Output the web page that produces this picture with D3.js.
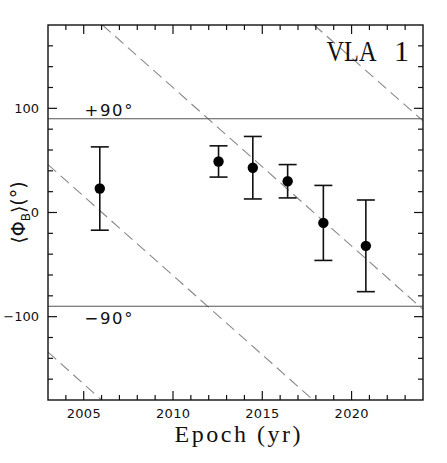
<!DOCTYPE html>
<html>
<head>
<meta charset="utf-8">
<script src="https://cdn.jsdelivr.net/npm/d3@7"></script>
<style>
  body { margin: 0; background: #fff; }
  svg { display: block; }
</style>
</head>
<body>
<div id="chart"></div>
<script>
// Measured epochs and mean field angles (deg) with their errors
const epochs = [2005.9, 2012.55, 2014.47, 2016.42, 2018.42, 2020.8];
const phiB = [23, 49, 43, 30, -10, -32];
const phiErr = [40, 15, 30, 16, 36, 44];

// Dashed reference lines, read as start/end points (epoch, angle)
const dashStartX = [2003, 2003, 2006.05, 2017.9];
const dashStartY = [-134, 46, 180, 180];
const dashEndX = [2006.0, 2017.85, 2024, 2024];
const dashEndY = [-180, -180, -93, 88];

// Horizontal limits and labels
const limitValues = [90, -90];
const limitLabels = ["+90°", "\u221290°"];

const xTicks = [2005, 2010, 2015, 2020];
const yTicks = [-100, 0, 100];

const W = 447, H = 463;
const margin = {top: 25, right: 24, bottom: 63, left: 48};
const width = W - margin.left - margin.right,
      height = H - margin.top - margin.bottom;

const svg = d3.select("#chart").append("svg")
    .attr("width", W)
    .attr("height", H);

const g = svg.append("g")
    .attr("transform", `translate(${margin.left},${margin.top})`);

const x = d3.scaleLinear().domain([2003, 2024]).range([0, width]);
const y = d3.scaleLinear().domain([-180, 180]).range([height, 0]);

// clip for the lines
svg.append("defs").append("clipPath").attr("id", "clip")
  .append("rect").attr("width", width).attr("height", height);

const plot = g.append("g").attr("clip-path", "url(#clip)");

// dashed lines
const dashData = dashStartX.map((d, i) => [[d, dashStartY[i]], [dashEndX[i], dashEndY[i]]]);
const line = d3.line().x(d => x(d[0])).y(d => y(d[1]));
plot.selectAll(".dash")
  .data(dashData)
  .join("path")
    .attr("class", "dash")
    .attr("d", line)
    .attr("fill", "none")
    .attr("stroke", "#888")
    .attr("stroke-width", 1.1)
    .attr("stroke-dasharray", "11,6");

// +90 / -90 lines
plot.selectAll(".limit")
  .data(limitValues)
  .join("line")
    .attr("class", "limit")
    .attr("x1", 0).attr("x2", width)
    .attr("y1", d => y(d)).attr("y2", d => y(d))
    .attr("stroke", "#555")
    .attr("stroke-width", 1.2);

g.selectAll(".limit-label")
  .data(limitValues)
  .join("text")
    .attr("class", "limit-label")
    .attr("x", x(2005.1) - 1)
    .attr("y", (d, i) => i === 0 ? y(d) - 2.5 : y(d) + 17.5)
    .attr("font-family", "DejaVu Sans, sans-serif")
    .attr("font-size", 16.5)
    .attr("textLength", 48)
    .attr("lengthAdjust", "spacing")
    .attr("fill", "#111")
    .text((d, i) => limitLabels[i]);

// error bars
const pts = epochs.map((e, i) => ({e, v: phiB[i], err: phiErr[i]}));
const bars = g.selectAll(".err").data(pts).join("g").attr("class", "err")
    .attr("stroke", "#111").attr("stroke-width", 1.6);
bars.append("line")
    .attr("x1", d => x(d.e)).attr("x2", d => x(d.e))
    .attr("y1", d => y(d.v + d.err)).attr("y2", d => y(d.v - d.err));
bars.append("line")
    .attr("x1", d => x(d.e) - 9).attr("x2", d => x(d.e) + 9)
    .attr("y1", d => y(d.v + d.err)).attr("y2", d => y(d.v + d.err));
bars.append("line")
    .attr("x1", d => x(d.e) - 9).attr("x2", d => x(d.e) + 9)
    .attr("y1", d => y(d.v - d.err)).attr("y2", d => y(d.v - d.err));

g.selectAll(".dot").data(pts).join("circle")
    .attr("class", "dot")
    .attr("cx", d => x(d.e)).attr("cy", d => y(d.v))
    .attr("r", 5.2)
    .attr("fill", "#000");

// frame and ticks on all four sides
g.append("rect")
    .attr("width", width).attr("height", height)
    .attr("fill", "none").attr("stroke", "#111").attr("stroke-width", 1.4);

const xMinor = d3.range(2004, 2024, 1);
const yMinor = d3.range(-160, 180, 20);
const tickStroke = sel => sel.attr("stroke", "#111").attr("stroke-width", 1.2);

function xTickMarks(vals, len) {
  g.append("g").selectAll("line").data(vals).join("line")
    .attr("x1", d => x(d)).attr("x2", d => x(d))
    .attr("y1", height).attr("y2", height - len).call(tickStroke);
  g.append("g").selectAll("line").data(vals).join("line")
    .attr("x1", d => x(d)).attr("x2", d => x(d))
    .attr("y1", 0).attr("y2", len).call(tickStroke);
}
function yTickMarks(vals, len) {
  g.append("g").selectAll("line").data(vals).join("line")
    .attr("y1", d => y(d)).attr("y2", d => y(d))
    .attr("x1", 0).attr("x2", len).call(tickStroke);
  g.append("g").selectAll("line").data(vals).join("line")
    .attr("y1", d => y(d)).attr("y2", d => y(d))
    .attr("x1", width).attr("x2", width - len).call(tickStroke);
}
xTickMarks(xMinor.filter(d => !xTicks.includes(d)), 5);
xTickMarks(xTicks, 9);
yTickMarks(yMinor.filter(d => !yTicks.includes(d)), 5);
yTickMarks(yTicks, 9);

// tick labels
g.selectAll(".xl").data(xTicks).join("text")
    .attr("class", "xl")
    .attr("x", d => x(d)).attr("y", height + 17.5)
    .attr("text-anchor", "middle")
    .attr("font-family", "DejaVu Sans, sans-serif")
    .attr("font-size", 13)
    .attr("textLength", 34)
    .attr("lengthAdjust", "spacing")
    .attr("fill", "#111")
    .text(d => d);

g.selectAll(".yl").data(yTicks).join("text")
    .attr("class", "yl")
    .attr("x", -9).attr("y", d => y(d) + 4.8)
    .attr("text-anchor", "end")
    .attr("font-family", "DejaVu Sans, sans-serif")
    .attr("font-size", 13)
    .attr("fill", "#111")
    .text(d => d === -100 ? "\u2212100" : d);

// axis titles
svg.append("text")
    .attr("x", margin.left + width / 2 + 2)
    .attr("y", 441.5)
    .attr("text-anchor", "middle")
    .attr("font-family", "Liberation Serif, serif")
    .attr("font-size", 24)
    .attr("textLength", 126)
    .attr("lengthAdjust", "spacing")
    .attr("fill", "#111")
    .text("Epoch (yr)");

const ylab = svg.append("text")
    .attr("transform", `translate(25,${margin.top + height / 2}) rotate(-90)`)
    .attr("text-anchor", "middle")
    .attr("font-family", "DejaVu Sans, sans-serif")
    .attr("font-size", 19)
    .attr("fill", "#111");
ylab.append("tspan").text("\u27e8\u03a6");
ylab.append("tspan").attr("font-size", 12).attr("dy", 5).text("B");
ylab.append("tspan").attr("dy", -5).text("\u27e9(\u00b0)");

// source label: "VLA" and "1" with a wide gap
const src = g.append("g")
    .attr("font-family", "Liberation Serif, serif")
    .attr("font-size", 30)
    .attr("fill", "#111");
src.append("text")
    .attr("x", 278.5).attr("y", 36)
    .attr("textLength", 50)
    .attr("lengthAdjust", "spacingAndGlyphs")
    .text("VLA");
src.append("text")
    .attr("x", 346).attr("y", 36)
    .text("1");
</script>
</body>
</html>
